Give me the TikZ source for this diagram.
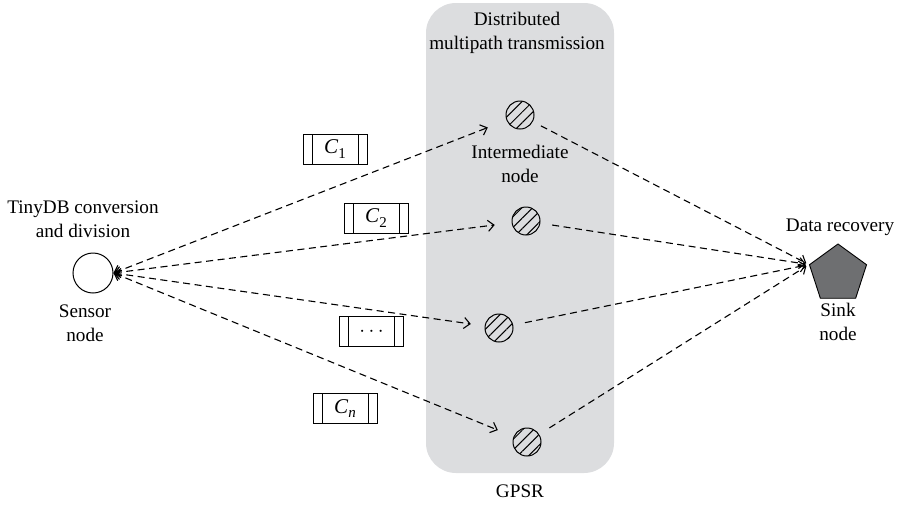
\documentclass[tikz,border=0pt]{standalone}
\usepackage{fontspec}
\setmainfont{Liberation Serif}
\usetikzlibrary{arrows.meta,patterns.meta,shapes.geometric}
\definecolor{panel}{RGB}{220,221,223}
\definecolor{sinkfill}{RGB}{110,111,113}
\newcommand{\csub}[2]{\textit{#1}\raisebox{-0.5ex}{\fontsize{15}{15}\selectfont #2}}
\tikzset{
  txt/.style={font=\fontsize{19.2}{24.5}\selectfont, align=center, inner sep=0pt},
  relay/.style={circle, draw, line width=1pt, minimum size=28pt, inner sep=0pt,
    pattern={Lines[angle=45,distance=7.5pt,line width=1pt]}},
  chunk/.style={draw, fill=white, line width=0.9pt, minimum width=64pt, minimum height=30pt,
    inner sep=0pt, font=\fontsize{21}{24}\selectfont,
    path picture={
      \draw[line width=0.9pt] ([xshift=9pt]path picture bounding box.north west) -- ([xshift=9pt]path picture bounding box.south west);
      \draw[line width=0.9pt] ([xshift=-9pt]path picture bounding box.north east) -- ([xshift=-9pt]path picture bounding box.south east);
    }},
  conn/.style={line width=1.1pt, dash pattern=on 7pt off 4.5pt},
  barb/.tip={Straight Barb[length=6pt,width=11pt,line width=1.1pt]}
}
\begin{document}
\begin{tikzpicture}[x=1pt,y=-1pt]
\useasboundingbox (0,0) rectangle (903,507);

% shaded GPSR band
\path[fill=panel, rounded corners=30pt] (426,3) rectangle (614,473);
\node[txt] (title) at (517,33) {Distributed\\multipath transmission};
\node[txt] (gpsr) at (520,491) {GPSR};

% source and sink
\node[circle, draw, line width=1pt, minimum size=40pt, inner sep=0pt] (sensor) at (93,273) {};
\node[txt] (senslbl) at (85,323) {Sensor\\node};
\node[txt] (convlbl) at (83,219) {TinyDB conversion\\and division};

\node[regular polygon, regular polygon sides=5, draw, line width=0.9pt, fill=sinkfill,
      minimum size=60pt, inner sep=0pt] (sink) at (838,274) {};
\node[txt] (recov) at (840,227) {Data recovery};
\node[txt] (sinklbl) at (838,322) {Sink\\node};

% intermediate relays
\node[relay] (i1) at (520,115) {};
\node[relay] (i2) at (526,221) {};
\node[relay] (i3) at (499,328) {};
\node[relay] (i4) at (527,442) {};
\node[txt] (interlbl) at (520,164) {Intermediate\\node};

% data chunks
\node[chunk] (c1) at (335,149) {\csub{C}{1}};
\node[chunk] (c2) at (376,218) {\csub{C}{2}};
\node[chunk] (c3) at (371.5,331.5) {$\cdots$};
\node[chunk] (cn) at (345,408.5) {\csub{C}{\textit{n}}};

% multipath links
\draw[conn, barb-barb, shorten >=20pt] (sensor.east) -- (i1);
\draw[conn, barb-barb, shorten >=17pt] (sensor.east) -- (i2);
\draw[conn, barb-barb, shorten >=14pt] (sensor.east) -- (i3);
\draw[conn, barb-barb, shorten >=17pt] (sensor.east) -- (i4);

\draw[conn, -barb, shorten <=9pt, shorten >=3pt] (i1) -- (sink.corner 2);
\draw[conn, -barb, shorten <=12pt, shorten >=3pt] (i2) -- (sink.corner 2);
\draw[conn, -barb, shorten <=12pt, shorten >=3pt] (i3) -- (sink.corner 2);
\draw[conn, -barb, shorten <=12pt, shorten >=3pt] (i4) -- (sink.corner 2);
\end{tikzpicture}
\end{document}
